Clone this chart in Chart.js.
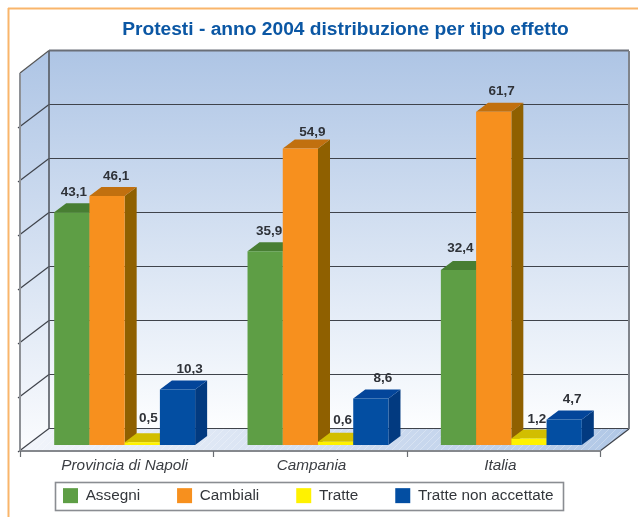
<!DOCTYPE html>
<html><head><meta charset="utf-8">
<style>html,body{margin:0;padding:0;background:#fff}canvas{display:block}</style>
<script src="https://cdn.jsdelivr.net/npm/chart.js@4/dist/chart.umd.min.js"></script>
</head><body><canvas id="c" width="638" height="517"></canvas>
<script>
const categories = ["Provincia di Napoli", "Campania", "Italia"];
const assegni = [43.1, 35.9, 32.4];
const cambiali = [46.1, 54.9, 61.7];
const tratte = [0.5, 0.6, 1.2];
const tratteNonAccettate = [10.3, 8.6, 4.7];
const titleText = "Protesti - anno 2004 distribuzione per tipo effetto";

// styling and layout tweaks (not data)
const labelNudgeX = [[2,4,2],[9,12,8],[6,7,8],[12,12,8]];
const labelLift = [[20,20,22],[20,16.5,21],[24,21,19.5],[20,20.6,20.6]];
const tickShift = [0,-6.5,-11];
const BAR_D = {x:12, y:-9};
const BACK = {x:21, y:-16};
const FRONT = {x:-8, y:6};
const shades = [
 {front:"#5E9E45", top:"#487E33", side:"#487E33"},
 {front:"#F7901E", top:"#C1700F", side:"#8F6000"},
 {front:"#FFF200", top:"#D2BE00", side:"#A89800"},
 {front:"#034EA2", top:"#03459A", side:"#023A80"}
];
const fmt = v => v.toFixed(1).replace(".", ",");

function poly(ctx, pts, fill){
  ctx.beginPath(); pts.forEach((p,i)=> i?ctx.lineTo(p[0],p[1]):ctx.moveTo(p[0],p[1]));
  ctx.closePath(); ctx.fillStyle=fill; ctx.fill();
}
function line(ctx,x1,y1,x2,y2,col,w){
  ctx.beginPath(); ctx.moveTo(x1,y1); ctx.lineTo(x2,y2); ctx.strokeStyle=col; ctx.lineWidth=w; ctx.stroke();
}

const scene = {
  id:"scene",
  beforeLayout(chart){
    const l = chart.legend;
    if(!l._sized){ const f=l.fit; l.fit=function(){f.call(this); this.height=0;}; l._sized=true; }
    const x = chart.scales.x;
    if(x && !x._shifted){
      const f=x._computeLabelItems;
      x._computeLabelItems=function(a){
        const items=f.call(this,a);
        items.forEach((it,i)=>{ it.options.translation=[it.options.translation[0]+tickShift[i],it.options.translation[1]]; });
        return items;
      };
      x._shifted=true;
    }
  },
  afterLayout(chart){
    const t=chart.titleBlock; t.left=122; t.right=569; t.top=20; t.bottom=39;
    const l=chart.legend; l.left=26; l.right=638; l.top=451; l.bottom=510;
  },
  beforeDraw(chart){
    const ctx=chart.ctx, a=chart.chartArea, y=chart.scales.y;
    ctx.save();
    ctx.fillStyle="#fff"; ctx.fillRect(0,0,chart.width,chart.height);
    // page frame
    line(ctx,8.5,8,8.5,517,"#F9B56B",2);
    line(ctx,8,8.5,638,8.5,"#F9B56B",2);
    const top=y.getPixelForValue(70), bot=y.getPixelForValue(0);
    const bx1=a.left+BACK.x, bx2=a.right+BACK.x, by1=top+BACK.y, by2=bot+BACK.y;
    const fx1=a.left+FRONT.x, fx2=a.right+FRONT.x, fy1=top+FRONT.y, fy2=bot+FRONT.y;
    // back wall
    const g=ctx.createLinearGradient(0,by1,0,by2);
    g.addColorStop(0,"#AEC5E5"); g.addColorStop(1,"#FDFEFF");
    ctx.fillStyle=g; ctx.fillRect(bx1,by1,bx2-bx1,by2-by1);
    // left wall
    const g2=ctx.createLinearGradient(0,by1,0,fy2);
    g2.addColorStop(0,"#AEC5E5"); g2.addColorStop(1,"#FBFCFE");
    poly(ctx,[[bx1,by1],[fx1,fy1],[fx1,fy2],[bx1,by2]],g2);
    // floor
    const g3=ctx.createLinearGradient(fx1,0,bx2,0);
    g3.addColorStop(0,"#F2F5FB"); g3.addColorStop(0.5,"#D3DFF1"); g3.addColorStop(1,"#B0C7E6");
    const floor=[[bx1,by2],[bx2,by2],[fx2,fy2],[fx1,fy2]];
    poly(ctx,floor,g3);
    ctx.save(); ctx.beginPath(); floor.forEach((p,i)=>i?ctx.lineTo(p[0],p[1]):ctx.moveTo(p[0],p[1])); ctx.closePath(); ctx.clip();
    for(let xx=fx1;xx<bx2+30;xx+=7) line(ctx,xx,fy2,xx+22,by2,"rgba(255,255,255,.28)",1);
    ctx.restore();
    // grid lines from the value axis
    y.ticks.forEach(tk=>{
      const p=y.getPixelForValue(tk.value);
      const by=Math.round(p+BACK.y)-0.5;
      const w = tk.value===70 ? 2 : 1.2;
      const col = tk.value===70 ? "#6A6F78" : "#3F434B";
      line(ctx,bx1,by,bx2,by,col,w);
      if(tk.value!==70){
        const ex=fx1-2, ey=by+(fy2-by2)+1.5;
        line(ctx,bx1,by,ex,ey,"#3F434B",1.2);
      } else {
        line(ctx,bx1,by,fx1,fy1,"#555",1.2);
      }
    });
    line(ctx,bx1,by1,bx1,by2,"#555A62",1.6);
    line(ctx,bx2,by1,bx2,by2,"#80848B",2);
    line(ctx,bx2,by2,fx2,fy2,"#3F434B",1.2);
    line(ctx,fx1,fy1,fx1,fy2,"#8E9196",2);
    line(ctx,fx1-1,fy2,fx2+1,fy2,"#85888D",2);
    // category ticks
    const n=categories.length, step=(fx2-fx1)/n;
    for(let i=0;i<=n;i++){ const tx=Math.round(fx1+i*step)+0.5; line(ctx,tx,fy2,tx,fy2+6,"#6A6D72",1.2); }
    ctx.restore();
  },
  beforeDatasetsDraw(chart){
    // paint left to right so each bar overlaps the depth faces of the previous one
    const ctx=chart.ctx;
    chart.data.datasets.forEach((d,i)=>{
      const s=shades[i], meta=chart.getDatasetMeta(i);
      ctx.save();
      meta.data.forEach(b=>{
        const w=b.width/2, l=b.x-w, r=b.x+w, t=b.y, bt=b.base;
        poly(ctx,[[r,t],[r+BAR_D.x,t+BAR_D.y],[r+BAR_D.x,bt+BAR_D.y],[r,bt]],s.side);
        poly(ctx,[[l,t],[l+BAR_D.x,t+BAR_D.y],[r+BAR_D.x,t+BAR_D.y],[r,t]],s.top);
      });
      ctx.restore();
      meta.controller.draw();
    });
    ctx.save();
    ctx.font="bold 13.5px 'Liberation Sans'";
    ctx.fillStyle="#2F3238"; ctx.textAlign="center"; ctx.textBaseline="middle";
    chart.data.datasets.forEach((d,i)=>{
      chart.getDatasetMeta(i).data.forEach((b,j)=>{
        ctx.fillText(fmt(d.data[j]), b.x+labelNudgeX[i][j], b.y-labelLift[i][j]);
      });
    });
    ctx.restore();
    return false;
  },
  afterDraw(chart){
    const ctx=chart.ctx;
    ctx.save();
    ctx.strokeStyle="#8A8D92"; ctx.lineWidth=1.6;
    ctx.strokeRect(55.5,482.5,508,28);
    ctx.restore();
  }
};

const series=[assegni,cambiali,tratte,tratteNonAccettate];
const names=["Assegni","Cambiali","Tratte","Tratte non accettate"];
new Chart(document.getElementById("c"),{
  type:"bar",
  data:{labels:categories,datasets:series.map((d,i)=>({
    label:names[i],data:d,backgroundColor:shades[i].front,borderWidth:0,
    categoryPercentage:0.729,barPercentage:1
  }))},
  plugins:[scene],
  options:{
    responsive:false,animation:false,
    layout:{padding:{left:28,right:30,top:47.8,bottom:42}},
    plugins:{
      tooltip:{enabled:false},
      title:{display:true,text:titleText,color:"#0B57A4",align:"center",padding:0,
        font:{family:"'Liberation Sans'",size:19.2,weight:"bold",lineHeight:1}},
      legend:{display:true,position:"bottom",align:"start",
        labels:{boxWidth:15,boxHeight:15,padding:37,color:"#33363B",
          font:{family:"'Liberation Sans'",size:15.3}}}
    },
    scales:{
      x:{offset:true,afterFit(s){s.height=30;},
        grid:{display:false,drawTicks:false},border:{display:false},
        ticks:{padding:12,color:"#3A3D42",maxRotation:0,autoSkip:false,
          font:{family:"'Liberation Sans'",size:15.3,style:"italic"}}},
      y:{display:false,min:0,max:70,ticks:{stepSize:10},grid:{display:false}}
    }
  }
});
</script></body></html>
